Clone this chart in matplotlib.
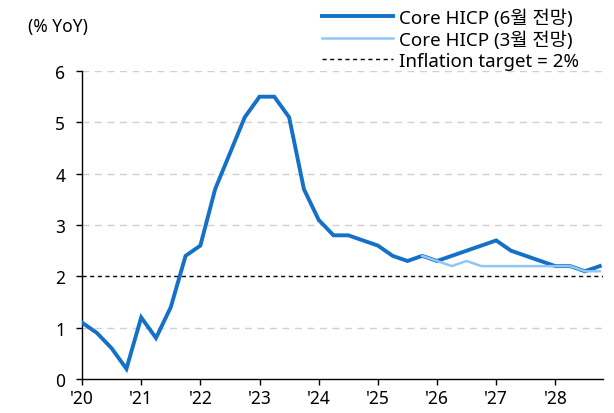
import matplotlib
matplotlib.use("Agg")
import matplotlib.pyplot as plt
import numpy as np

plt.rcParams['font.family'] = ['Noto Sans', 'Noto Sans CJK KR', 'DejaVu Sans']

# Quarterly data starting 2020 Q1
june = [1.1, 0.9, 0.6, 0.2, 1.2, 0.8, 1.4, 2.4, 2.6, 3.7, 4.4, 5.1,
        5.5, 5.5, 5.1, 3.7, 3.1, 2.8, 2.8, 2.7, 2.6, 2.4, 2.3, 2.4,
        2.3, 2.4, 2.5, 2.6, 2.7, 2.5, 2.4, 2.3, 2.2, 2.2, 2.1, 2.2]
march_start = 23
march = [2.4, 2.3, 2.2, 2.3, 2.2, 2.2, 2.2, 2.2, 2.2, 2.2, 2.2, 2.1, 2.1]
target = 2.0
year_ticks = [2020, 2021, 2022, 2023, 2024, 2025, 2026, 2027, 2028]
year_labels = ["'20", "'21", "'22", "'23", "'24", "'25", "'26", "'27", "'28"]
yticks = [0, 1, 2, 3, 4, 5, 6]

x_june = 2020 + np.arange(len(june)) / 4
x_march = 2020 + (march_start + np.arange(len(march))) / 4

fig = plt.figure(figsize=(6.14, 4.14), dpi=100)
ax = fig.add_axes([0.1336, 0.082, 0.848, 0.744])

for y in yticks[1:]:
    if y != 2:
        ax.axhline(y, color='#d0d0d0', lw=1.0, ls=(0, (5, 4)), zorder=0)
l1, = ax.plot(x_june, june, color='#1570c8', lw=2.8, solid_joinstyle='miter', zorder=3,
              label='Core HICP (6월 전망)')
l2, = ax.plot(x_march, march, color='#90c6f6', lw=1.8, zorder=4,
              label='Core HICP (3월 전망)')
l3 = ax.axhline(target, color='black', lw=1.0, ls=(0, (3, 2.5)), zorder=2,
                label='Inflation target = 2%')

ax.set_xlim(2020, 2028.8)
ax.set_ylim(0, 6)
ax.set_yticks(yticks)
ax.set_xticks(year_ticks)
ax.set_xticklabels(year_labels)
for s in ['top', 'right']:
    ax.spines[s].set_visible(False)
ax.spines['left'].set_linewidth(1.0)
ax.spines['bottom'].set_linewidth(1.0)
ax.tick_params(axis='both', labelsize=12.5, length=4, width=1, colors='black')
ax.tick_params(axis='y', pad=8)

fig.text(0.045, 0.935, '(% YoY)', fontsize=12.5, ha='left', va='center')

leg = fig.legend(handles=[l1, l2, l3], loc='upper right', bbox_to_anchor=(0.958, 1.0),
                 frameon=False, fontsize=13.5, handlelength=3.8, handletextpad=0.32,
                 labelspacing=0.18, borderaxespad=0.1)

fig.savefig('out.png', dpi=100)
